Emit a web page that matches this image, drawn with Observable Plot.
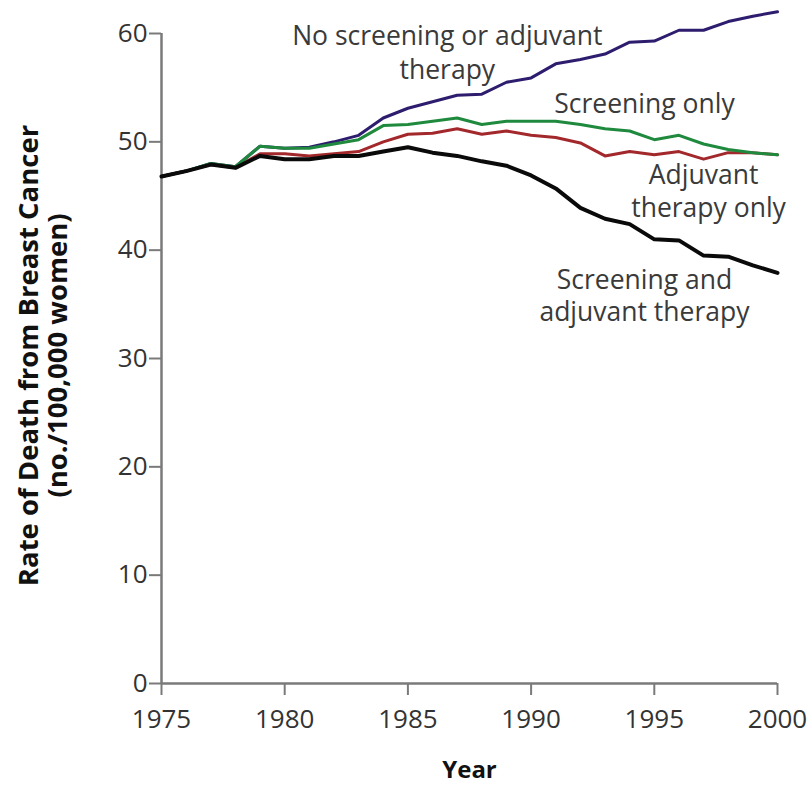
<!DOCTYPE html>
<html><head><meta charset="utf-8">
<script src="https://cdn.jsdelivr.net/npm/d3@7"></script>
<script src="https://cdn.jsdelivr.net/npm/@observablehq/plot@0.6"></script>
<style>body{margin:0;background:#fff} svg{display:block}</style>
</head><body><div id="chart"></div>
<script>
const years = [1975,1976,1977,1978,1979,1980,1981,1982,1983,1984,1985,1986,1987,1988,1989,1990,1991,1992,1993,1994,1995,1996,1997,1998,1999,2000];
const noScreeningNoAdjuvant = [46.8,47.3,48.0,47.7,49.6,49.4,49.5,50.0,50.6,52.2,53.1,53.7,54.3,54.4,55.5,55.9,57.2,57.6,58.1,59.2,59.3,60.3,60.3,61.1,61.6,62.0];
const adjuvantOnly = [46.8,47.3,47.9,47.6,48.9,48.9,48.7,48.9,49.1,50.0,50.7,50.8,51.2,50.7,51.0,50.6,50.4,49.9,48.7,49.1,48.8,49.1,48.4,49.0,49.0,48.8];
const screeningOnly = [46.8,47.3,48.0,47.7,49.6,49.4,49.4,49.8,50.2,51.5,51.6,51.9,52.2,51.6,51.9,51.9,51.9,51.6,51.2,51.0,50.2,50.6,49.8,49.3,49.0,48.8];
const screeningAndAdjuvant = [46.8,47.3,47.9,47.6,48.7,48.4,48.4,48.7,48.7,49.1,49.5,49.0,48.7,48.2,47.8,46.9,45.7,43.9,42.9,42.4,41.0,40.9,39.5,39.4,38.6,37.9];

const seriesNames = ["No screening or adjuvant therapy","Adjuvant therapy only","Screening only","Screening and adjuvant therapy"];
const seriesValues = [noScreeningNoAdjuvant, adjuvantOnly, screeningOnly, screeningAndAdjuvant];
const seriesColors = ["#2e1d6e","#a3282c","#1f8a3e","#0a0a0a"];
const seriesWidths = [3, 3, 3, 4];

const xTicks = [1975,1980,1985,1990,1995,2000];
const yTicks = [0,10,20,30,40,50,60];

const labelText = ["No screening or adjuvant","therapy","Screening only","Adjuvant","therapy only","Screening and","adjuvant therapy"];
const labelYear = [1986.6,1986.6,1994.6,1997.0,1997.2,1994.6,1994.6];
const labelValue = [59.7,56.6,53.4,46.9,43.8,37.2,34.2];

const yTitle = "Rate of Death from Breast Cancer\n(no./100,000 women)";
const xTitle = "Year";

const rows = [];
seriesNames.forEach((name, i) => {
  years.forEach((yr, j) => rows.push({series: name, year: yr, value: seriesValues[i][j]}));
});
const labels = labelText.map((t, i) => ({text: t, year: labelYear[i], value: labelValue[i]}));

const chart = Plot.plot({
  width: 812,
  height: 785,
  marginLeft: 161,
  marginRight: 35,
  marginTop: 33,
  marginBottom: 102,
  style: {fontFamily: "'Open Sans', Lato, sans-serif", fontSize: "26px", color: "#333", background: "#fff"},
  x: {domain: [1975, 2000]},
  y: {domain: [0, 60]},
  color: {domain: seriesNames, range: seriesColors},
  marks: [
    Plot.ruleY([0], {stroke: "#7a7a7a", strokeWidth: 2.5}),
    Plot.ruleX([1975], {y1: 0, y2: 60, stroke: "#7a7a7a", strokeWidth: 2.5}),
    Plot.axisX({ticks: xTicks, tickSize: 12, tickPadding: 14, tickFormat: d => String(d), label: null, stroke: "#7a7a7a", strokeWidth: 2, fill: "#333", fontSize: 26}),
    Plot.axisY({ticks: yTicks, tickSize: 12, tickPadding: 2, label: null, stroke: "#7a7a7a", strokeWidth: 2, fill: "#333", fontSize: 26}),
    ...seriesNames.map((name, i) =>
      Plot.line(rows.filter(r => r.series === name), {x: "year", y: "value", stroke: "series", strokeWidth: seriesWidths[i], strokeLinejoin: "round", strokeLinecap: "round"})
    ),
    Plot.text(labels, {x: "year", y: "value", text: "text", fontSize: 26.5, fill: "#3a3a3a"}),
    Plot.text([yTitle], {frameAnchor: "left", textAnchor: "middle", lineAnchor: "middle", dx: -118, dy: -3, rotate: -90, fontSize: 27.5, fontWeight: "bold", lineHeight: 1.05, fill: "#111"}),
    Plot.text([xTitle], {frameAnchor: "bottom", textAnchor: "middle", lineAnchor: "middle", dy: 87, fontSize: 24, fontWeight: "bold", fill: "#111"})
  ]
});
document.getElementById("chart").appendChild(chart);
</script>
</body></html>
